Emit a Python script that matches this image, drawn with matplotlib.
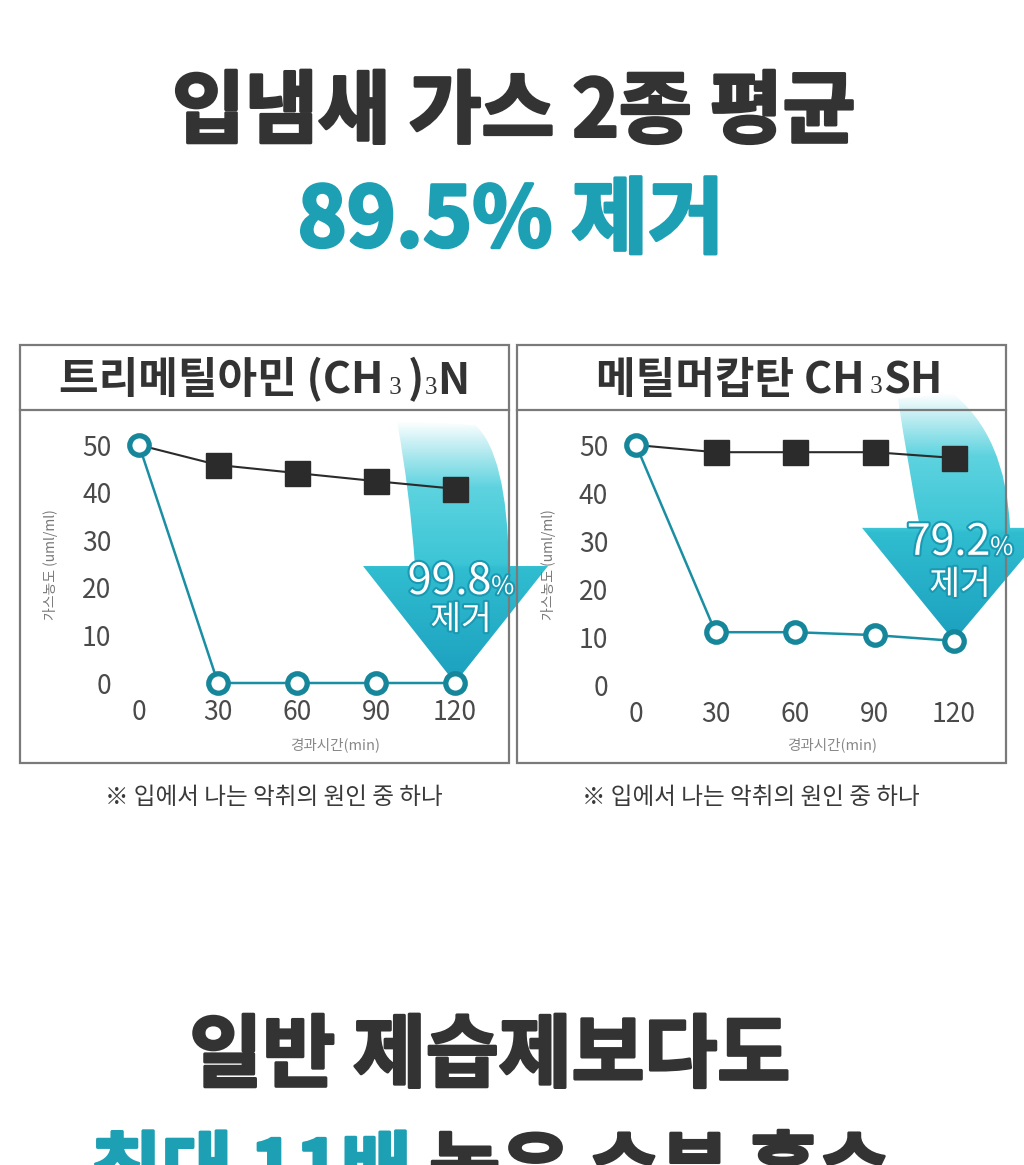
import numpy as np
import matplotlib
matplotlib.use("Agg")
import matplotlib.pyplot as plt
from matplotlib.path import Path
from matplotlib.patches import PathPatch, Rectangle
from matplotlib.offsetbox import TextArea, HPacker, AnnotationBbox
from matplotlib.colors import LinearSegmentedColormap
import matplotlib.patheffects as pe

plt.rcParams['font.family'] = ['Noto Sans CJK KR', 'DejaVu Sans']

W, H = 1024, 1165
DARK = '#333333'
TEAL = '#1d9fb4'
LINE_TEAL = '#1a8fa3'
BORDER = '#7a7a7a'

# data
minutes = [0, 30, 60, 90, 120]
y_ticks = [0, 10, 20, 30, 40, 50]
tma_control = [50, 45.8, 44.1, 42.4, 40.8]
tma_treated = [50, 0, 0, 0, 0]
mm_control = [50, 48.5, 48.5, 48.5, 47.3]
mm_treated = [50, 11.0, 11.0, 10.4, 9.2]
removal = ['99.8', '79.2']

title_1 = '입냄새 가스 2종 평균'
title_2 = '89.5% 제거'
bottom_1 = '일반 제습제보다도'
bottom_2a = '최대 11배'
bottom_2b = ' 높은 수분 흡수'
footnote = '※ 입에서 나는 악취의 원인 중 하나'
y_label = '가스농도 (uml/ml)'
x_label = '경과시간(min)'

fig = plt.figure(figsize=(W / 100, H / 100), dpi=100)
bg = fig.add_axes([0, 0, 1, 1])
bg.set_xlim(0, W)
bg.set_ylim(H, 0)
bg.axis('off')
bg.set_autoscale_on(False)


def rich(items, xy, sep=0):
    areas = [TextArea(s, textprops=p) for s, p in items]
    box = HPacker(children=areas, align='baseline', pad=0, sep=sep)
    ab = AnnotationBbox(box, xy, xycoords='data', frameon=False,
                        box_alignment=(0.5, 0.5), pad=0, zorder=6,
                        annotation_clip=False)
    bg.add_artist(ab)


def heavy(c):
    return [pe.withStroke(linewidth=2.2, foreground=c)]


# big headings
bg.text(514, 113, title_1, ha='center', va='center', fontsize=57,
        fontweight='bold', color=DARK, path_effects=heavy(DARK))
bg.text(511, 222, title_2, ha='center', va='center', fontsize=60,
        fontweight='bold', color=TEAL, path_effects=heavy(TEAL))
bg.text(490, 1057, bottom_1, ha='center', va='center', fontsize=57,
        fontweight='bold', color=DARK, path_effects=heavy(DARK))
big = dict(fontsize=55.5, fontweight='bold')
rich([(bottom_2a, dict(color=TEAL, path_effects=heavy(TEAL), **big)),
      (bottom_2b, dict(color=DARK, path_effects=heavy(DARK), **big))],
     (490, 1173))

# panels
panels = [(20, 509), (517, 1006)]
for x0, x1 in panels:
    bg.add_patch(Rectangle((x0, 345), x1 - x0, 418, fill=False, ec=BORDER,
                           lw=1.6, zorder=3))
    bg.plot([x0, x1], [410, 410], color=BORDER, lw=1.6, zorder=3)

hdr = dict(fontsize=31, fontweight='bold', color=DARK)
sub = dict(fontsize=18, color=DARK, family='Liberation Serif')
rich([('트리메틸아민 (CH', hdr), (' 3 ', sub), (')', hdr), ('3', sub), ('N', hdr)],
     (264, 380))
rich([('메틸머캅탄 CH', hdr), (' 3', sub), ('SH', hdr)], (769, 380))

for cx in (274, 751):
    bg.text(cx, 798, footnote, ha='center', va='center', fontsize=17,
            color='#3a3a3a')

# chart axes: (pixel of x=0, pixel of x=120, pixel of y=50, pixel of y=0)
geo = [(139, 455, 445, 683), (636, 954, 445, 685)]
series = [(tma_control, tma_treated), (mm_control, mm_treated)]
axes = []
for (px0, px1, py50, py0), (ctrl, trt) in zip(geo, series):
    sx = (px1 - px0) / 120
    sy = (py0 - py50) / 50
    xl, xr, yb, yt = -10, 130, -3, 53
    left = px0 + xl * sx
    right = px0 + xr * sx
    top = py0 - yt * sy
    bottom = py0 - yb * sy
    ax = fig.add_axes([left / W, 1 - bottom / H, (right - left) / W, (bottom - top) / H])
    ax.set_zorder(2)
    ax.patch.set_visible(False)
    ax.set_xlim(xl, xr)
    ax.set_ylim(yb, yt)
    for s in ax.spines.values():
        s.set_visible(False)
    ax.set_xticks(minutes)
    ax.set_yticks(y_ticks)
    ax.tick_params(length=0, labelsize=19, labelcolor='#4a4a4a', pad=1)
    for lab in ax.get_xticklabels() + ax.get_yticklabels():
        lab.set_fontweight('light')
    ax.plot(minutes, ctrl, color='#2b2b2b', lw=1.5, marker='s', ms=18,
            mfc='#2b2b2b', mec='#2b2b2b', markevery=[1, 2, 3, 4], zorder=3,
            clip_on=False)
    ax.plot(minutes, trt, color=LINE_TEAL, lw=1.8, marker='o', ms=14,
            mfc='white', mec='#16879b', mew=3.8, zorder=4, clip_on=False)
    axes.append(ax)

for cx in (50, 548):
    bg.text(cx, 565, y_label, rotation=90, ha='center', va='center',
            fontsize=10, color='#777777')
for cx in (335, 832):
    bg.text(cx, 745, x_label, ha='center', va='center', fontsize=10.5,
            color='#888888')


def to_img(ax, x, y):
    d = ax.transData.transform((x, y))
    return bg.transData.inverted().transform(d)


arrow_cmap = LinearSegmentedColormap.from_list('arr', [
    (0.0, '#ffffff'), (0.08, '#c9f0f4'), (0.25, '#5ed3df'), (0.54, '#3cc5d6'),
    (0.56, '#30bdd0'), (1.0, '#1b9fbe')])

# shape params: head_up, head_left, head_right, shaft_l, shaft_r, right ctrl, top right, top left, left ctrl
shapes = [
    (117, -92, 93, -40, 54, (52, 230), (20, 258), (-58, 262), (-45, 190)),
    (113, -92, 95, -34, 56, (52, 205), (-2, 248), (-56, 242), (-46, 175)),
]
label_pos = [(-101, -63), (-98, -56)]

for ax, trt, shp, pct, (u1, u2) in zip(axes, [tma_treated, mm_treated], shapes,
                                       removal, label_pos):
    tx, ty = to_img(ax, minutes[-1], trt[-1])
    hu, hl, hr, sl, sr, rc, trp, tlp, lc = shp
    pts = [(0, 0), (hr, hu), (sr, hu), rc, trp, tlp, lc, (sl, hu), (hl, hu), (0, 0)]
    codes = [Path.MOVETO, Path.LINETO, Path.LINETO, Path.CURVE3, Path.CURVE3,
             Path.LINETO, Path.CURVE3, Path.CURVE3, Path.LINETO, Path.CLOSEPOLY]
    verts = [(tx + dx, ty - du) for dx, du in pts]
    path = Path(verts, codes)
    patch = PathPatch(path, transform=bg.transData, fc='none', ec='none')
    top_y = ty - max(trp[1], tlp[1])
    grad = np.linspace(0, 1, 256).reshape(-1, 1)
    im = bg.imshow(grad, cmap=arrow_cmap, aspect='auto', origin='upper',
                   extent=(tx + hl - 5, tx + hr + 5, ty + 2, top_y), zorder=1)
    im.set_clip_path(patch)

    stroke = [pe.withStroke(linewidth=3, foreground='#1a9ab2')]
    num = dict(fontsize=31, color='white', fontweight='medium', path_effects=stroke)
    pc = dict(fontsize=18, color='white', path_effects=stroke)
    rich([(pct, num), ('%', pc)], (tx + 6, ty + u1))
    bg.text(tx + 6, ty + u2, '제거', ha='center', va='center', fontsize=24,
            color='white', path_effects=stroke, zorder=6)

bg.set_xlim(0, W)
bg.set_ylim(H, 0)
fig.savefig('out.png', dpi=100)
